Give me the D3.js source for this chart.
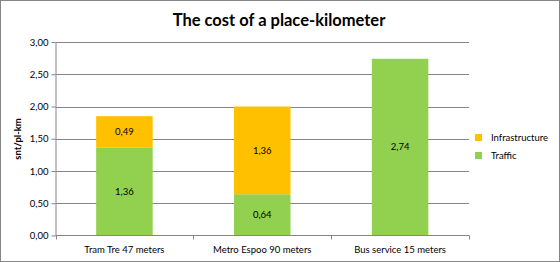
<!DOCTYPE html>
<html><head><meta charset="utf-8">
<script src="https://cdn.jsdelivr.net/npm/d3@7"></script>
<style>body{margin:0;background:#fff}svg{display:block;font-family:Lato,"Open Sans",sans-serif}</style>
</head><body><svg id="c" width="560" height="262"></svg>
<script>
const categories = ["Tram Tre 47 meters","Metro Espoo 90 meters","Bus service 15 meters"];
const traffic = [1.36, 0.64, 2.74];
const infrastructure = [0.49, 1.36, 0];
const yTicks = [0,0.5,1,1.5,2,2.5,3];
const seriesNames = ["Traffic","Infrastructure"];
const colors = {Traffic:"#92D050", Infrastructure:"#FFC000"};

const svg = d3.select("#c");
svg.append("rect").attr("x",0.5).attr("y",0.5).attr("width",559).attr("height",261).attr("fill","#fff").attr("stroke","#868686");
const L=55.5, R=469, T=42, B=235.5;
const x = d3.scaleBand().domain(categories).range([L,R]).paddingInner(0.59).paddingOuter(0.295);
const y = d3.scaleLinear().domain([0,3]).range([B,T]);
const fmt = v => d3.format(".2f")(v).replace(".",",");

// gridlines
svg.append("g").selectAll("line").data(yTicks.slice(1)).join("line")
  .attr("x1",L).attr("x2",R).attr("y1",d=>Math.round(y(d))+0.5).attr("y2",d=>Math.round(y(d))+0.5)
  .attr("stroke","#868686").attr("stroke-width",1);

const data = categories.map((c,i)=>({cat:c, Traffic:traffic[i], Infrastructure:infrastructure[i]}));
const stack = d3.stack().keys(seriesNames)(data);
const g = svg.append("g");
stack.forEach(s=>{
  g.selectAll(null).data(s.filter(d=>d[1]-d[0]>0)).join("rect")
    .attr("x",d=>x(d.data.cat)).attr("width",x.bandwidth())
    .attr("y",d=>y(d[1])).attr("height",d=>y(d[0])-y(d[1]))
    .attr("fill",colors[s.key]);
  g.selectAll(null).data(s.filter(d=>d[1]-d[0]>0)).join("text")
    .attr("x",d=>x(d.data.cat)+x.bandwidth()/2).attr("y",d=>(y(d[0])+y(d[1]))/2)
    .attr("dy","0.35em").attr("text-anchor","middle").attr("font-size",9.5).attr("fill","#000")
    .text(d=>fmt(d[1]-d[0]));
});

// y axis
const ya = svg.append("g").attr("transform",`translate(${L},0)`)
  .call(d3.axisLeft(y).tickValues(yTicks).tickFormat(fmt).tickSize(4).tickSizeOuter(0));
ya.select(".domain").attr("stroke","#868686");
ya.selectAll(".tick line").attr("stroke","#868686");
ya.selectAll(".tick text").attr("font-size",9.5).attr("font-family","Lato,sans-serif").attr("fill","#000").attr("x",-7);

// x axis
const xa = svg.append("g").attr("transform",`translate(0,${B})`);
xa.append("line").attr("x1",L).attr("x2",R).attr("y1",0).attr("y2",0).attr("stroke","#868686");
const bounds = [L].concat(categories.map(c=>x(c)+x.bandwidth()/2+x.step()/2));
xa.selectAll(null).data(bounds).join("line").attr("x1",d=>Math.round(d)+0.5).attr("x2",d=>Math.round(d)+0.5).attr("y1",0).attr("y2",4).attr("stroke","#868686");
xa.selectAll(null).data(categories).join("text")
  .attr("x",c=>x(c)+x.bandwidth()/2).attr("y",17).attr("text-anchor","middle")
  .attr("font-size",9.5).attr("fill","#000").text(c=>c);

// title
svg.append("text").attr("x",279).attr("y",26).attr("text-anchor","middle")
  .attr("font-size",16.5).attr("font-weight","bold").text("The cost of a place-kilometer");
// y label
svg.append("text").attr("transform","translate(21,139) rotate(-90)").attr("text-anchor","middle")
  .attr("font-size",9.5).attr("font-weight","bold").text("snt/pl-km");

// legend
const leg = svg.append("g");
const legItems = ["Infrastructure","Traffic"];
legItems.forEach((k,i)=>{
  leg.append("rect").attr("x",475).attr("y",134+i*18).attr("width",7).attr("height",7).attr("fill",colors[k]);
  leg.append("text").attr("x",491).attr("y",137.5+i*18).attr("dy","0.35em").attr("font-size",9.5).text(k);
});
</script></body></html>
